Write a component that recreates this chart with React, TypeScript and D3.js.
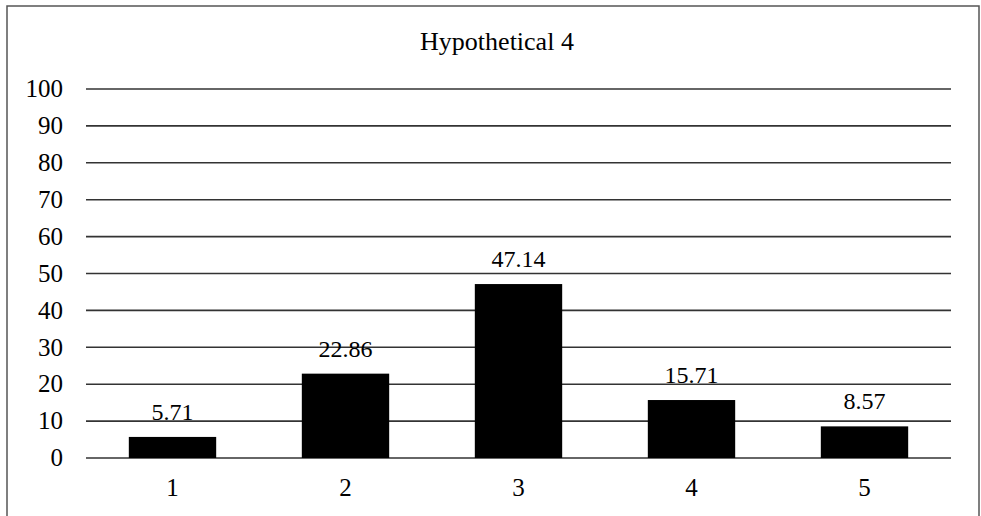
import React from "react";
import * as d3 from "d3";

const categories = ["1", "2", "3", "4", "5"];
const values = [5.71, 22.86, 47.14, 15.71, 8.57];
const valueLabels = ["5.71", "22.86", "47.14", "15.71", "8.57"];
const yTicks = [0, 10, 20, 30, 40, 50, 60, 70, 80, 90, 100];
const title = "Hypothetical 4";

const W = 981;
const H = 516;
const font = "'Liberation Serif', 'Times New Roman', serif";

export default function App() {
  const x = d3.scaleBand<string>().domain(categories).range([86, 951]).padding(0);
  const y = d3.scaleLinear().domain([0, 100]).range([458, 89]);
  const barW = x.bandwidth() * 0.505;

  return (
    <svg
      width={W}
      height={H}
      viewBox={`0 0 ${W} ${H}`}
      style={{ position: "absolute", left: 0, top: 0, background: "#fff" }}
    >
      <rect x={7} y={6} width={972} height={520} fill="#fff" stroke="#555" strokeWidth={1.5} />
      <text x={497} y={50} textAnchor="middle" fontFamily={font} fontSize={26} fill="#000">
        {title}
      </text>
      {yTicks.map((t) => (
        <g key={t}>
          <line x1={86} x2={951} y1={y(t)} y2={y(t)} stroke="#333" strokeWidth={1.6} />
          <text
            x={63}
            y={y(t)}
            dy="0.33em"
            textAnchor="end"
            fontFamily={font}
            fontSize={25}
            fill="#000"
          >
            {t}
          </text>
        </g>
      ))}
      {categories.map((c, i) => {
        const cx = (x(c) as number) + x.bandwidth() / 2;
        return (
          <g key={c}>
            <rect
              x={cx - barW / 2}
              y={y(values[i])}
              width={barW}
              height={y(0) - y(values[i])}
              fill="#000"
            />
            <text
              x={cx}
              y={y(values[i]) - 17}
              textAnchor="middle"
              fontFamily={font}
              fontSize={24}
              fill="#000"
            >
              {valueLabels[i]}
            </text>
            <text x={cx} y={496} textAnchor="middle" fontFamily={font} fontSize={25} fill="#000">
              {c}
            </text>
          </g>
        );
      })}
    </svg>
  );
}
